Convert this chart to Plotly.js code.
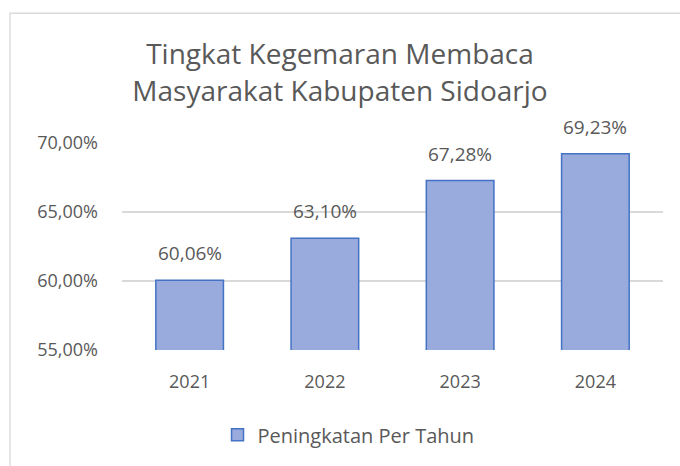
<!DOCTYPE html>
<html><head><meta charset="utf-8">
<script src="https://cdn.plot.ly/plotly-3.0.1.min.js"></script>
<style>html,body{margin:0;padding:0;background:#fff;}#chart{width:680px;height:466px;}</style>
</head><body><div id="chart"></div>
<script>
const years = ['2021','2022','2023','2024'];
const values = [60.06, 63.10, 67.28, 69.23];
const labels = ['60,06%','63,10%','67,28%','69,23%'];
const yTickVals = [55, 60, 65, 70];
const yTickText = ['55,00%','60,00%','65,00%','70,00%'];
const seriesName = 'Peningkatan Per Tahun';
const titleText = 'Tingkat Kegemaran Membaca<br>Masyarakat Kabupaten Sidoarjo';

const W = 680, H = 466;
const m = {l:122, r:17, t:143, b:114};
const pw = W - m.l - m.r, ph = H - m.t - m.b;
const font = '"Open Sans", sans-serif';
const txt = '#595959';

const trace = {
  type:'bar', x:years, y:values, name:seriesName,
  marker:{color:'#99aadc', line:{color:'#4472c4', width:1.5}},
  width:0.5, showlegend:true, hoverinfo:'skip'
};
const annotations = years.map((yr, i) => ({
  x: i, y: values[i], xref:'x', yref:'y', text: labels[i], showarrow:false,
  yanchor:'bottom', yshift:12, font:{family:font, size:19, color:txt}
}));
const layout = {
  width:W, height:H, margin:m,
  paper_bgcolor:'#fff', plot_bgcolor:'#fff',
  title:{text:titleText, font:{family:font, size:28, color:txt}, x:0.5, xanchor:'center', y:0.862, yanchor:'middle'},
  xaxis:{type:'category', range:[-0.5, years.length-0.5], showgrid:false, showline:false, ticks:'', tickfont:{family:font, size:18, color:txt}, ticklabelstandoff:19},
  yaxis:{range:[55,70], tickvals:yTickVals, ticktext:yTickText, showgrid:true, gridcolor:'#d9d9d9', gridwidth:1.3, zeroline:false, showline:false, ticks:'', tickfont:{family:font, size:18, color:txt}, ticklabelstandoff:23},
  showlegend:true,
  legend:{orientation:'h', x:0.4187, xanchor:'center', y:-0.41, yanchor:'middle', font:{family:font, size:20, color:txt}, itemwidth:30},
  annotations: annotations,
  shapes:[{type:'rect', xref:'paper', yref:'paper', x0:(10-m.l)/pw, x1:(W+5-m.l)/pw, y0:-(H+5-m.t-ph)/ph, y1:1+(m.t-12)/ph, line:{color:'#d9d9d9', width:1.3}, layer:'below'}],
  bargap:0.5
};
Plotly.newPlot('chart',[trace],layout,{displayModeBar:false, staticPlot:true});
</script></body></html>
